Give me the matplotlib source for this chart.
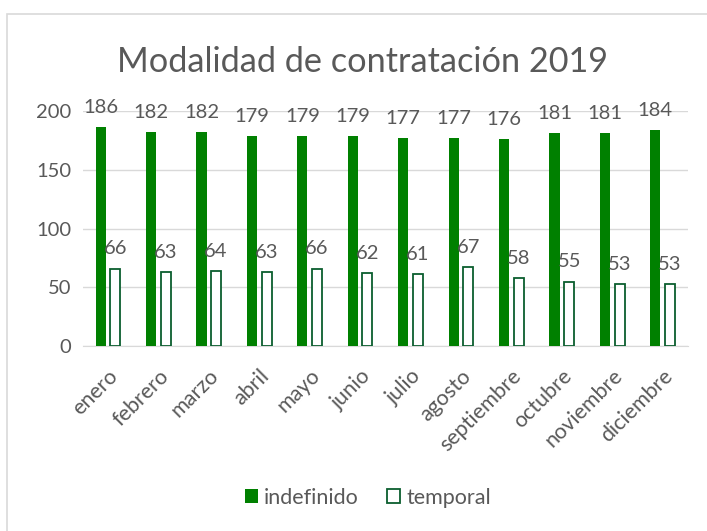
import matplotlib.pyplot as plt
from matplotlib.patches import Rectangle
import numpy as np

# === Data ===
meses = ["enero", "febrero", "marzo", "abril", "mayo", "junio", "julio",
         "agosto", "septiembre", "octubre", "noviembre", "diciembre"]
indefinido = [186, 182, 182, 179, 179, 179, 177, 177, 176, 181, 181, 184]
temporal = [66, 63, 64, 63, 66, 62, 61, 67, 58, 55, 53, 53]

plt.rcParams["font.family"] = ["Lato", "DejaVu Sans"]
text_color = "#595959"
green = "#008000"
dark_green = "#0b5e2e"

fig = plt.figure(figsize=(7.07, 5.31), dpi=100)
ax = fig.add_axes([0.117, 0.348, 0.856, 0.443])

# chart border (only top and left edges are inside the picture)
fig.patches.append(Rectangle((0.010, -0.1), 1.2, 1.074, transform=fig.transFigure,
                             fill=False, edgecolor="#d9d9d9", linewidth=1.2))

x = np.arange(len(meses))
w = 0.2
b1 = ax.bar(x - 0.145, indefinido, width=w, color=green, zorder=3)
b2 = ax.bar(x + 0.145, temporal, width=w, facecolor="white", edgecolor=dark_green,
            linewidth=1.3, zorder=3)

for rect, v in zip(b1, indefinido):
    ax.annotate(str(v), (rect.get_x() + rect.get_width() / 2, v), xytext=(0, 8),
                textcoords="offset points", ha="center", va="bottom",
                fontsize=14.5, color=text_color, annotation_clip=False, zorder=4)
for rect, v in zip(b2, temporal):
    ax.annotate(str(v), (rect.get_x() + rect.get_width() / 2, v), xytext=(0, 8),
                textcoords="offset points", ha="center", va="bottom",
                fontsize=14.5, color=text_color, annotation_clip=False, zorder=4)

ax.set_ylim(0, 200)
ax.set_xlim(-0.5, len(meses) - 0.5)
ax.set_yticks([0, 50, 100, 150, 200])
ax.yaxis.grid(True, color="#d9d9d9", linewidth=1, zorder=0)
ax.set_xticks(x)
ax.set_xticklabels(meses, rotation=45, ha="right", rotation_mode="anchor")
ax.tick_params(axis="y", length=0, labelsize=14.5, colors=text_color, pad=8)
ax.tick_params(axis="x", length=0, labelsize=15.5, colors=text_color, pad=14)
for s in ["top", "right", "left"]:
    ax.spines[s].set_visible(False)
ax.spines["bottom"].set_color("#d9d9d9")

fig.suptitle("Modalidad de contratación 2019", x=0.513, y=0.913, fontsize=24.7,
             color=text_color)

fig.legend([b1, b2], ["indefinido", "temporal"], loc="center", ncol=2,
           bbox_to_anchor=(0.52, 0.063), frameon=False, fontsize=15.5,
           labelcolor=text_color, handlelength=0.6, handleheight=0.6,
           handletextpad=0.3, columnspacing=1.3)

fig.savefig("out.png", dpi=100)
